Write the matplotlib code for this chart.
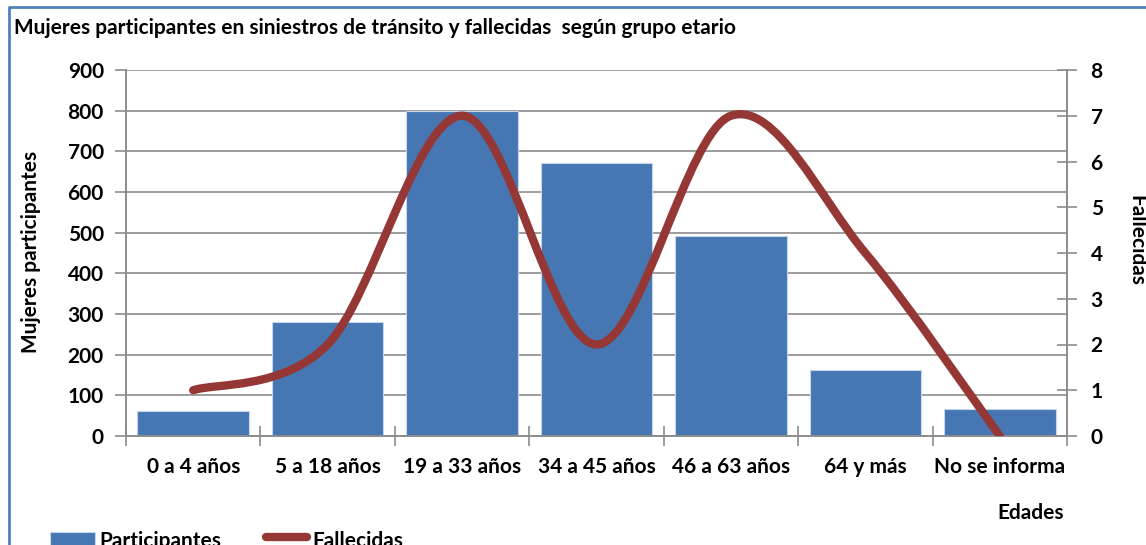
import matplotlib
matplotlib.use("Agg")
import matplotlib.pyplot as plt
from matplotlib.path import Path
from matplotlib.patches import PathPatch
from matplotlib.lines import Line2D

categories = ["0 a 4 años", "5 a 18 años", "19 a 33 años", "34 a 45 años",
              "46 a 63 años", "64 y más", "No se informa"]
participantes = [62, 280, 800, 672, 493, 162, 67]
fallecidas = [1, 2, 7, 2, 7, 4, 0]

plt.rcParams['font.family'] = ['Lato', 'DejaVu Sans']
W, H = 1146, 545
FS = 15
fig = plt.figure(figsize=(W / 100, H / 100), dpi=100)
ax = fig.add_axes([126 / W, 1 - 436 / H, (1067 - 126) / W, (436 - 70) / H])
ax2 = ax.twinx()

grey = '#8c8c8c'
blue = '#4677b2'
red = '#953735'

x = list(range(len(categories)))
ax.bar(x, participantes, width=0.83, color=blue, edgecolor='#c5d5ea', linewidth=0.8, zorder=2)
ax.set_xlim(-0.5, len(categories) - 0.5)
ax.set_ylim(0, 900)
ax.set_yticks(range(0, 901, 100))
ax.grid(axis='y', color=grey, linewidth=1.2, zorder=0)
ax.set_axisbelow(True)
ax.set_xticks(x)
ax.set_xticklabels(categories, fontsize=FS, fontweight='bold')
ax.set_xticks([i - 0.5 for i in range(len(categories) + 1)], minor=True)
ax.tick_params(axis='x', which='major', length=0, pad=15)
ax.tick_params(axis='x', which='minor', direction='inout', length=14, color=grey, width=1.2)
ax.tick_params(axis='y', direction='out', length=8, color=grey, width=1.2, labelsize=FS, pad=8)
for lab in ax.get_yticklabels():
    lab.set_fontweight('bold')

# Excel-style smoothed line via cubic Bezier segments
pts = list(zip(x, fallecidas))
verts = [pts[0]]
codes = [Path.MOVETO]
n = len(pts)
for i in range(n - 1):
    p0 = pts[i - 1] if i > 0 else pts[i]
    p1 = pts[i]
    p2 = pts[i + 1]
    p3 = pts[i + 2] if i + 2 < n else pts[i + 1]
    c1 = (p1[0] + (p2[0] - p0[0]) / 6, p1[1] + (p2[1] - p0[1]) / 6)
    c2 = (p2[0] - (p3[0] - p1[0]) / 6, p2[1] - (p3[1] - p1[1]) / 6)
    verts += [c1, c2, p2]
    codes += [Path.CURVE4] * 3
ax2.add_patch(PathPatch(Path(verts, codes), facecolor='none', edgecolor=red,
                        linewidth=6, capstyle='round', joinstyle='round', zorder=3))
ax2.set_ylim(0, 8)
ax2.set_yticks(range(0, 9))
ax2.tick_params(axis='y', direction='inout', length=14, color=grey, width=1.2, labelsize=FS, pad=10)
for lab in ax2.get_yticklabels():
    lab.set_fontweight('bold')

for a in (ax, ax2):
    a.spines['top'].set_visible(False)
    for s in ('left', 'right', 'bottom'):
        a.spines[s].set_color(grey)
        a.spines[s].set_linewidth(1.2)

fig.text(14 / W, 1 - 28 / H, "Mujeres participantes en siniestros de tránsito y fallecidas  según grupo etario",
         fontsize=15, fontweight='bold', va='center', ha='left')
fig.text(31 / W, 1 - 252 / H, "Mujeres participantes", rotation=90, fontsize=FS,
         fontweight='bold', va='center', ha='center')
fig.text(1136 / W, 1 - 240 / H, "Fallecidas", rotation=-90, fontsize=FS,
         fontweight='bold', va='center', ha='center')
fig.text(1031 / W, 1 - 513 / H, "Edades", fontsize=FS, fontweight='bold', va='center', ha='center')

# legend (partially cut at the bottom as in the reference)
fig.patches.append(plt.Rectangle((50 / W, 1 - 550 / H), 45 / W, 18 / H, transform=fig.transFigure,
                                 facecolor=blue, edgecolor='#c5d5ea', linewidth=0.8))
fig.text(99 / W, 1 - 541 / H, "Participantes", fontsize=FS, fontweight='bold', va='center', ha='left')
fig.lines.append(Line2D([266 / W, 307 / W], [1 - 537 / H, 1 - 537 / H], transform=fig.transFigure,
                        color=red, linewidth=6, solid_capstyle='round'))
fig.text(312 / W, 1 - 541 / H, "Fallecidas", fontsize=FS, fontweight='bold', va='center', ha='left')

# blue chart frame
fig.lines.append(Line2D([9 / W, 9 / W, 1.01], [-0.01, 1 - 7 / H, 1 - 7 / H], transform=fig.transFigure,
                        color='#4f81bd', linewidth=2))

fig.savefig("out.png", dpi=100)
